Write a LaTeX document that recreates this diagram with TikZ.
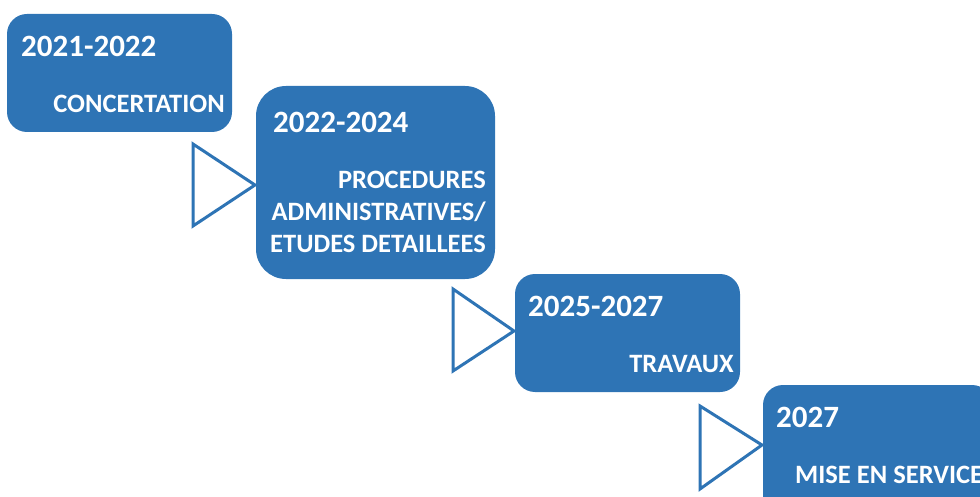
\documentclass[tikz,border=0pt]{standalone}
\usepackage{fontspec}
\setmainfont{Carlito}
\usetikzlibrary{calc}
\definecolor{stepblue}{RGB}{46,116,181}
\tikzset{
  phasebox/.style={fill=stepblue, draw=none},
  yeartext/.style={text=white, inner sep=0pt, anchor=base west, font=\fontsize{31}{36}\selectfont\bfseries},
  phasetext/.style={text=white, inner sep=0pt, anchor=base east, align=right, font=\fontsize{26.5}{32.5}\selectfont\bfseries},
  pointer/.style={draw=stepblue, line width=3pt, fill=white, line join=miter}
}
\begin{document}
\begin{tikzpicture}[x=1pt, y=-1pt]
			%%%%% BOUNDS %%%%%
			\useasboundingbox (0, 0) rectangle (980, 497);
			\clip (0, 0) rectangle (980, 497);
			
			%%%%% BOXES %%%%%
			\draw[phasebox, rounded corners=20pt] (7, 14) rectangle (232, 132);
			\draw[phasebox, rounded corners=30pt] (256, 86) rectangle (495, 279);
			\draw[phasebox, rounded corners=20pt] (515, 274) rectangle (740, 392);
			\draw[phasebox, rounded corners=20pt] (763, 385) rectangle (992, 520);
			
			%%%%% POINTERS %%%%%
			\draw[pointer] (193, 144) -- (255, 185) -- (193, 226) -- cycle;
			\draw[pointer] (453, 289) -- (514, 331) -- (453, 371) -- cycle;
			\draw[pointer] (700, 406) -- (762, 445) -- (700, 489) -- cycle;
			
			%%%%% TEXTS %%%%%
			\node[yeartext] (y1) at (21, 57) {2021-2022};
			\node[phasetext] (p1) at (225, 113) {CONCERTATION};
			
			\node[yeartext] (y2) at (273, 133) {2022-2024};
			\node[phasetext] (p2) at (486, 253) {PROCEDURES\\ADMINISTRATIVES/\\ETUDES DETAILLEES};
			
			\node[yeartext] (y3) at (528, 316) {2025-2027};
			\node[phasetext] (p3) at (734, 372) {TRAVAUX};
			
			\node[yeartext] (y4) at (776, 427) {2027};
			\node[phasetext, anchor=base west] (p4) at (795, 483) {MISE EN SERVICE};
			
			%%%%% END %%%%%
\end{tikzpicture}
\end{document}
